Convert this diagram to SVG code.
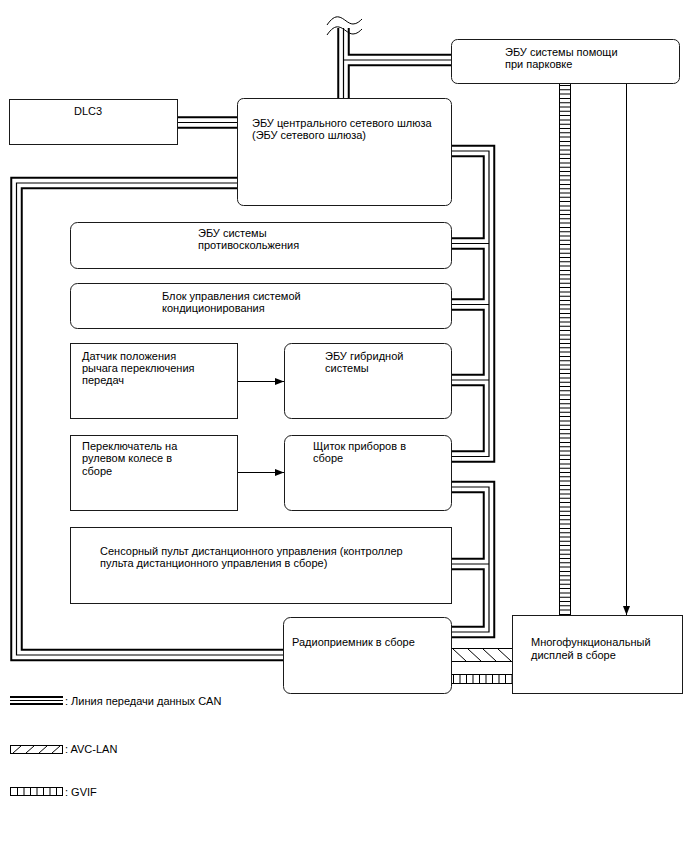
<svg xmlns="http://www.w3.org/2000/svg" width="688" height="852" viewBox="0 0 688 852">
<style>
.box{fill:#fff;stroke:#1a1a1a;stroke-width:1}
.t{font-family:"Liberation Sans",Arial,sans-serif;font-size:11px;fill:#000}
.b1{fill:none;stroke:#000;stroke-width:12.5;stroke-linejoin:miter;stroke-linecap:butt}
.b2{fill:none;stroke:#fff;stroke-width:8.5;stroke-linejoin:miter;stroke-linecap:butt}
.b3{fill:none;stroke:#000;stroke-width:1.2;stroke-linejoin:miter;stroke-linecap:butt}
.ln{fill:none;stroke:#000;stroke-width:1}
</style>
<defs>
<marker id="ah" markerUnits="userSpaceOnUse" viewBox="0 0 9 7" markerWidth="9" markerHeight="7" refX="9" refY="3.5" orient="auto">
<path d="M0,0 L9,3.5 L0,7 z" fill="#000"/>
</marker>
<path id="can" d="M343.5,28 V104 M343.5,60 H456 M174,122.5 H242 M242,183 H16.5 V655 H288 M447,151 H489 V456.5 H447 M489,243.5 H447 M489,304.5 H447 M489,380 H447 M447,487 H489 V632 H447 M489,564 H447"/>
</defs>
<g id="connectors">
<use href="#can" class="b1"/>
<use href="#can" class="b2"/>
<use href="#can" class="b3"/>
<path class="ln" d="M327,25 C331,19 335,16 339,17 C344,18 348,24 353,24 C357,24 360,21 362,19"/>
<path class="ln" d="M327,35 C331,29 335,26 339,27 C344,28 348,34 353,34 C357,34 360,31 362,29"/>
<line x1="559.5" y1="83" x2="559.5" y2="616" class="ln"/>
<line x1="570.5" y1="83" x2="570.5" y2="616" class="ln"/>
<line x1="565" y1="85" x2="565" y2="615" stroke="#000" stroke-width="11" stroke-dasharray="1 3.3"/>
<line x1="626.5" y1="84" x2="626.5" y2="615" class="ln" marker-end="url(#ah)"/>
<line x1="238" y1="381.5" x2="284" y2="381.5" class="ln" marker-end="url(#ah)"/>
<line x1="238" y1="472.5" x2="284" y2="472.5" class="ln" marker-end="url(#ah)"/>
<line x1="452" y1="648.5" x2="512" y2="648.5" class="ln"/>
<line x1="452" y1="661.5" x2="512" y2="661.5" class="ln"/>
<path class="ln" d="M453,649 L466,661 M468,649 L481,661 M483,649 L496,661 M498,649 L511,661"/>
<line x1="452" y1="674.5" x2="512" y2="674.5" class="ln"/>
<line x1="452" y1="683.5" x2="512" y2="683.5" class="ln"/>
<line x1="453" y1="679" x2="512" y2="679" stroke="#000" stroke-width="9" stroke-dasharray="1 5.5"/>
</g>
<g id="parking"><rect class="box" x="451.5" y="39.5" width="228" height="44" rx="6"/><text class="t" x="505" y="56">ЭБУ системы помощи</text><text class="t" x="505" y="68">при парковке</text></g>
<g id="dlc3"><rect class="box" x="9.5" y="99.5" width="168" height="45"/><text class="t" x="74" y="115">DLC3</text></g>
<g id="gateway"><rect class="box" x="237.5" y="98.5" width="214" height="107" rx="6"/><text class="t" x="252" y="127">ЭБУ центрального сетевого шлюза</text><text class="t" x="252" y="139">(ЭБУ сетевого шлюза)</text></g>
<g id="anticollision"><rect class="box" x="70.5" y="222.5" width="381" height="46" rx="7"/><text class="t" x="198" y="237">ЭБУ системы</text><text class="t" x="198" y="249">противоскольжения</text></g>
<g id="aircon"><rect class="box" x="70.5" y="283.5" width="381" height="45" rx="7"/><text class="t" x="162" y="300">Блок управления системой</text><text class="t" x="162" y="312">кондиционирования</text></g>
<g id="shiftsensor"><rect class="box" x="70.5" y="343.5" width="167" height="75"/><text class="t" x="82" y="360">Датчик положения</text><text class="t" x="82" y="372">рычага переключения</text><text class="t" x="82" y="384">передач</text></g>
<g id="hybrid"><rect class="box" x="284.5" y="343.5" width="167" height="75" rx="7"/><text class="t" x="325" y="360">ЭБУ гибридной</text><text class="t" x="325" y="372">системы</text></g>
<g id="steeringswitch"><rect class="box" x="70.5" y="435.5" width="167" height="75"/><text class="t" x="82" y="450">Переключатель на</text><text class="t" x="82" y="462">рулевом колесе в</text><text class="t" x="82" y="475">сборе</text></g>
<g id="cluster"><rect class="box" x="284.5" y="435.5" width="167" height="75" rx="7"/><text class="t" x="313" y="450">Щиток приборов в</text><text class="t" x="313" y="462">сборе</text></g>
<g id="touchpad"><rect class="box" x="70.5" y="527.5" width="381" height="76"/><text class="t" x="100" y="555">Сенсорный пульт дистанционного управления (контроллер</text><text class="t" x="100" y="567">пульта дистанционного управления в сборе)</text></g>
<g id="radio"><rect class="box" x="283.5" y="617.5" width="168" height="76" rx="7"/><text class="t" x="292" y="646">Радиоприемник в сборе</text></g>
<g id="multidisplay"><rect class="box" x="512.5" y="615.5" width="170" height="78"/><text class="t" x="531" y="646">Многофункциональный</text><text class="t" x="531" y="659">дисплей в сборе</text></g>
<g id="legend">
<line x1="10" y1="700.5" x2="63" y2="700.5" stroke="#000" stroke-width="9"/>
<line x1="10" y1="700.5" x2="63" y2="700.5" stroke="#fff" stroke-width="5"/>
<line x1="10" y1="700.5" x2="63" y2="700.5" stroke="#000" stroke-width="1.2"/>
<text class="t" x="65" y="705">: Линия передачи данных CAN</text>
<rect x="10.5" y="745.5" width="52" height="8" fill="none" stroke="#000"/>
<path class="ln" d="M13,753 L21,746 M26,753 L34,746 M39,753 L47,746 M52,753 L60,746"/>
<text class="t" x="65" y="753">: AVC-LAN</text>
<rect x="10.5" y="787.5" width="52" height="8" fill="none" stroke="#000"/>
<line x1="17" y1="791.5" x2="62" y2="791.5" stroke="#000" stroke-width="8" stroke-dasharray="1 5.5"/>
<text class="t" x="65" y="796">: GVIF</text>
</g>
</svg>
